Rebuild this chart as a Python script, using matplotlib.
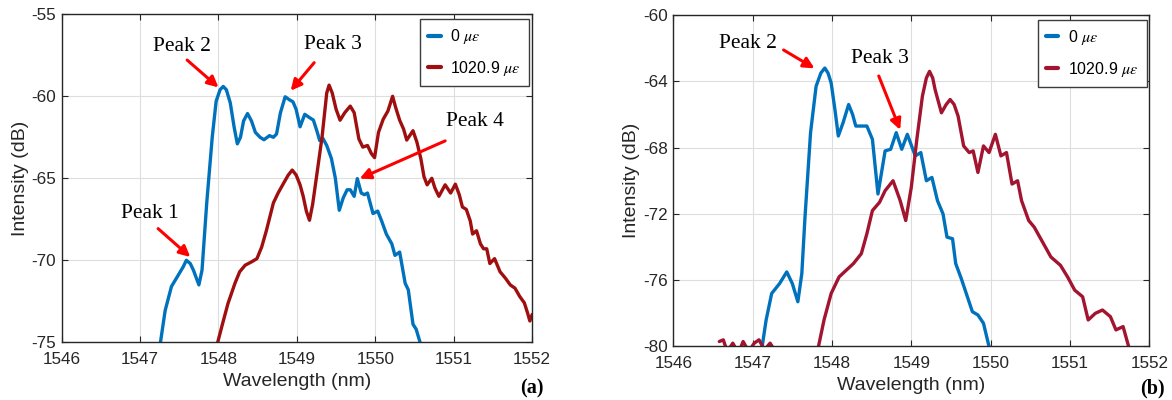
import numpy as np
import matplotlib
matplotlib.use('Agg')
import matplotlib.pyplot as plt

# ---- panel (a) data ----
a_blue_x = [1547.26, 1547.32, 1547.40, 1547.50, 1547.55, 1547.59, 1547.64, 1547.68, 1547.75, 1547.79,
            1547.85, 1547.92, 1547.97, 1548.02, 1548.06, 1548.10, 1548.15, 1548.20, 1548.24, 1548.28,
            1548.32, 1548.37, 1548.42, 1548.47, 1548.53, 1548.58, 1548.65, 1548.70, 1548.74, 1548.79,
            1548.85, 1548.90, 1548.95, 1548.99, 1549.04, 1549.10, 1549.16, 1549.21, 1549.26, 1549.29,
            1549.33, 1549.38, 1549.44, 1549.49, 1549.54, 1549.59, 1549.64, 1549.68, 1549.73, 1549.77,
            1549.82, 1549.86, 1549.90, 1549.97, 1550.03, 1550.08, 1550.14, 1550.21, 1550.25, 1550.31,
            1550.38, 1550.42, 1550.48, 1550.52, 1550.57]
a_blue_y = [-75.0, -73.06, -71.6, -70.8, -70.4, -70.0, -70.2, -70.6, -71.5, -70.6,
            -66.5, -62.5, -60.3, -59.6, -59.4, -59.6, -60.4, -61.9, -62.9, -62.5,
            -61.5, -61.05, -61.5, -62.2, -62.5, -62.65, -62.4, -62.5, -62.3, -61.0,
            -60.03, -60.2, -60.34, -60.8, -61.86, -61.1, -61.3, -61.45, -62.2, -62.7,
            -62.56, -63.0, -63.8, -65.0, -66.95, -66.2, -65.7, -65.7, -66.1, -65.02,
            -65.9, -66.0, -65.9, -67.15, -67.0, -67.6, -68.4, -69.0, -69.7, -69.5,
            -71.4, -71.8, -73.9, -74.2, -75.0]
a_red_x = [1547.99, 1548.05, 1548.12, 1548.21, 1548.27, 1548.34, 1548.42, 1548.49, 1548.55, 1548.61,
           1548.70, 1548.76, 1548.83, 1548.89, 1548.94, 1548.99, 1549.04, 1549.08, 1549.12, 1549.16,
           1549.20, 1549.25, 1549.32, 1549.38, 1549.41, 1549.45, 1549.50, 1549.55, 1549.61, 1549.68,
           1549.73, 1549.79, 1549.84, 1549.90, 1549.95, 1549.99, 1550.04, 1550.10, 1550.16, 1550.22,
           1550.26, 1550.31, 1550.36, 1550.40, 1550.48, 1550.53, 1550.58, 1550.62, 1550.66, 1550.72,
           1550.76, 1550.81, 1550.89, 1550.96, 1551.02, 1551.07, 1551.11, 1551.16, 1551.21, 1551.24,
           1551.29, 1551.34, 1551.38, 1551.42, 1551.46, 1551.52, 1551.59, 1551.66, 1551.72, 1551.78,
           1551.84, 1551.90, 1551.94, 1551.97, 1552.00]
a_red_y = [-75.0, -73.9, -72.65, -71.4, -70.7, -70.3, -70.1, -69.9, -69.2, -68.2,
           -66.5, -65.9, -65.3, -64.8, -64.5, -64.8, -65.4, -66.1, -67.0, -67.56,
           -66.6, -64.9, -62.5, -59.8, -59.32, -59.8, -60.8, -61.46, -61.0, -60.6,
           -61.0, -62.6, -63.1, -63.0, -63.5, -63.74, -62.2, -61.4, -60.9, -60.0,
           -60.7, -61.46, -62.0, -62.67, -62.1, -62.8, -63.8, -64.9, -65.4, -65.0,
           -65.6, -66.1, -65.4, -65.9, -65.36, -66.0, -66.75, -66.9, -67.6, -68.4,
           -68.2, -69.0, -69.3, -69.3, -70.2, -69.9, -70.7, -71.1, -71.5, -71.7,
           -72.2, -72.6, -73.2, -73.7, -73.3]

# ---- panel (b) data ----
b_blue_x = [1547.12, 1547.17, 1547.24, 1547.34, 1547.43, 1547.50, 1547.57, 1547.62, 1547.66, 1547.73,
            1547.80, 1547.86, 1547.91, 1547.95, 1547.99, 1548.04, 1548.08, 1548.14, 1548.21, 1548.26,
            1548.30, 1548.44, 1548.51, 1548.58, 1548.67, 1548.74, 1548.81, 1548.88, 1548.95, 1549.05,
            1549.12, 1549.19, 1549.26, 1549.33, 1549.40, 1549.45, 1549.52, 1549.56, 1549.63, 1549.70,
            1549.77, 1549.84, 1549.91, 1549.98]
b_blue_y = [-80.0, -78.4, -76.8, -76.2, -75.5, -76.2, -77.3, -75.6, -72.2, -67.1,
            -64.3, -63.5, -63.2, -63.5, -64.1, -65.8, -67.3, -66.5, -65.4, -66.0,
            -66.7, -66.7, -67.5, -70.8, -68.2, -68.1, -67.1, -68.1, -67.2, -68.5,
            -68.3, -70.0, -69.8, -71.2, -72.0, -73.4, -73.5, -75.0, -75.9, -76.9,
            -77.9, -78.1, -78.6, -80.0]
# low-level noise at the left, separate from the main red trace
b_red_tail_x = [1546.58, 1546.63, 1546.68, 1546.75, 1546.82, 1546.88, 1546.95, 1547.02, 1547.08, 1547.15,
                1547.22, 1547.30]
b_red_tail_y = [-79.7, -79.6, -80.3, -79.8, -80.4, -79.7, -80.3, -79.8, -79.6, -80.2, -79.8, -80.4]
b_red_x = [1547.83, 1547.90, 1547.99, 1548.09, 1548.18, 1548.27, 1548.37, 1548.44, 1548.51, 1548.60,
           1548.67, 1548.77, 1548.86, 1548.93, 1549.00, 1549.07, 1549.14, 1549.19, 1549.23, 1549.27,
           1549.30, 1549.38, 1549.44, 1549.49, 1549.54, 1549.59, 1549.66, 1549.73, 1549.78, 1549.84,
           1549.91, 1549.98, 1550.06, 1550.13, 1550.20, 1550.27, 1550.34, 1550.39, 1550.48, 1550.55,
           1550.62, 1550.69, 1550.76, 1550.88, 1550.97, 1551.06, 1551.16, 1551.23, 1551.32, 1551.41,
           1551.51, 1551.58, 1551.67, 1551.74]
b_red_y = [-80.0, -78.4, -76.8, -75.8, -75.4, -75.0, -74.4, -73.2, -71.8, -71.3,
           -70.6, -70.0, -71.2, -72.4, -70.4, -67.5, -64.9, -63.8, -63.4, -63.8,
           -64.5, -65.9, -65.4, -65.1, -65.4, -66.1, -67.9, -68.3, -68.2, -69.5,
           -67.9, -68.3, -67.2, -68.5, -68.3, -70.2, -70.0, -71.2, -72.4, -72.8,
           -73.4, -74.0, -74.6, -75.1, -75.8, -76.6, -77.0, -78.4, -78.0, -77.8,
           -78.2, -79.0, -78.8, -80.0]

# (text, text xy, arrow tail, arrow head)
a_notes = [('Peak 1', (1547.13, -67.15), (1547.23, -68.07), (1547.64, -69.80)),
           ('Peak 2', (1547.53, -56.98), (1547.60, -57.79), (1548.00, -59.46)),
           ('Peak 3', (1549.46, -56.87), (1549.22, -57.95), (1548.92, -59.66)),
           ('Peak 4', (1551.27, -61.56), (1550.89, -62.72), (1549.80, -65.02))]
b_notes = [('Peak 2', (1546.94, -61.71), (1547.39, -62.11), (1547.78, -63.22)),
           ('Peak 3', (1548.60, -62.61), (1548.59, -63.68), (1548.86, -66.93))]

blue = '#0072BD'
red_a = '#A00F0F'
red_b = '#A2142F'
dark = '#262626'

plt.rcParams['font.family'] = 'Liberation Sans'
plt.rcParams['axes.unicode_minus'] = False
plt.rcParams['mathtext.fontset'] = 'stix'

fig = plt.figure(figsize=(11.72, 4.0), dpi=100)
ax1 = fig.add_axes([0.0526, 0.1443, 0.4015, 0.82])
ax2 = fig.add_axes([0.5745, 0.1338, 0.4061, 0.8287])


def setup(ax, ylim, yticks, blue_xy, red_xy, red, notes, leg_anchor, extra=None):
    kw = dict(lw=2.4, solid_joinstyle='round', solid_capstyle='round')
    ax.plot(blue_xy[0], blue_xy[1], color=blue, label='0 $\\mu\\epsilon$', **kw)
    ax.plot(red_xy[0], red_xy[1], color=red, label='1020.9 $\\mu\\epsilon$', **kw)
    if extra is not None:
        ax.plot(extra[0], extra[1], color=red, **kw)
    ax.set_xlim(1546, 1552)
    ax.set_ylim(*ylim)
    ax.set_xticks(range(1546, 1553))
    ax.set_yticks(yticks)
    ax.grid(True, color='#dedede', lw=0.8)
    ax.set_axisbelow(True)
    ax.tick_params(direction='in', top=True, right=True, labelsize=12.3, length=4,
                   colors=dark, labelcolor=dark)
    ax.tick_params(axis='x', pad=7)
    ax.tick_params(axis='y', pad=4)
    for s in ax.spines.values():
        s.set_linewidth(1.0)
        s.set_color(dark)
    ax.set_xlabel('Wavelength (nm)', fontsize=14, labelpad=4, color=dark)
    ax.set_ylabel('Intensity (dB)', fontsize=14, labelpad=2, color=dark)
    for txt, txy, tail, head in notes:
        ax.text(txy[0], txy[1], txt, family='Liberation Serif', fontsize=15.5,
                ha='center', va='center')
        ax.annotate('', xy=head, xytext=tail,
                    arrowprops=dict(arrowstyle='-|>', color='red', lw=2.2, mutation_scale=16,
                                    shrinkA=0, shrinkB=0))
    leg = ax.legend(loc='upper right', bbox_to_anchor=leg_anchor, borderaxespad=0,
                    fontsize=11.5, handlelength=0.8, handletextpad=0.6, fancybox=False,
                    edgecolor='#3c3c3c', framealpha=1, borderpad=0.5, labelspacing=0.8)
    leg.get_frame().set_linewidth(1.0)
    for h in leg.get_lines():
        h.set_linewidth(3)


setup(ax1, (-75, -55), [-75, -70, -65, -60, -55], (a_blue_x, a_blue_y), (a_red_x, a_red_y),
      red_a, a_notes, (0.993, 0.985))
setup(ax2, (-80, -60), [-80, -76, -72, -68, -64, -60], (b_blue_x, b_blue_y), (b_red_x, b_red_y),
      red_b, b_notes, (0.9945, 0.985), extra=(b_red_tail_x, b_red_tail_y))

fig.text(532 / 1172, 0.03, '(a)', family='Liberation Serif', fontweight='bold', fontsize=14.5,
         ha='center', va='center')
fig.text(1152 / 1172, 0.03, '(b)', family='Liberation Serif', fontweight='bold', fontsize=14.5,
         ha='center', va='center')

fig.savefig('out.png', dpi=100)
